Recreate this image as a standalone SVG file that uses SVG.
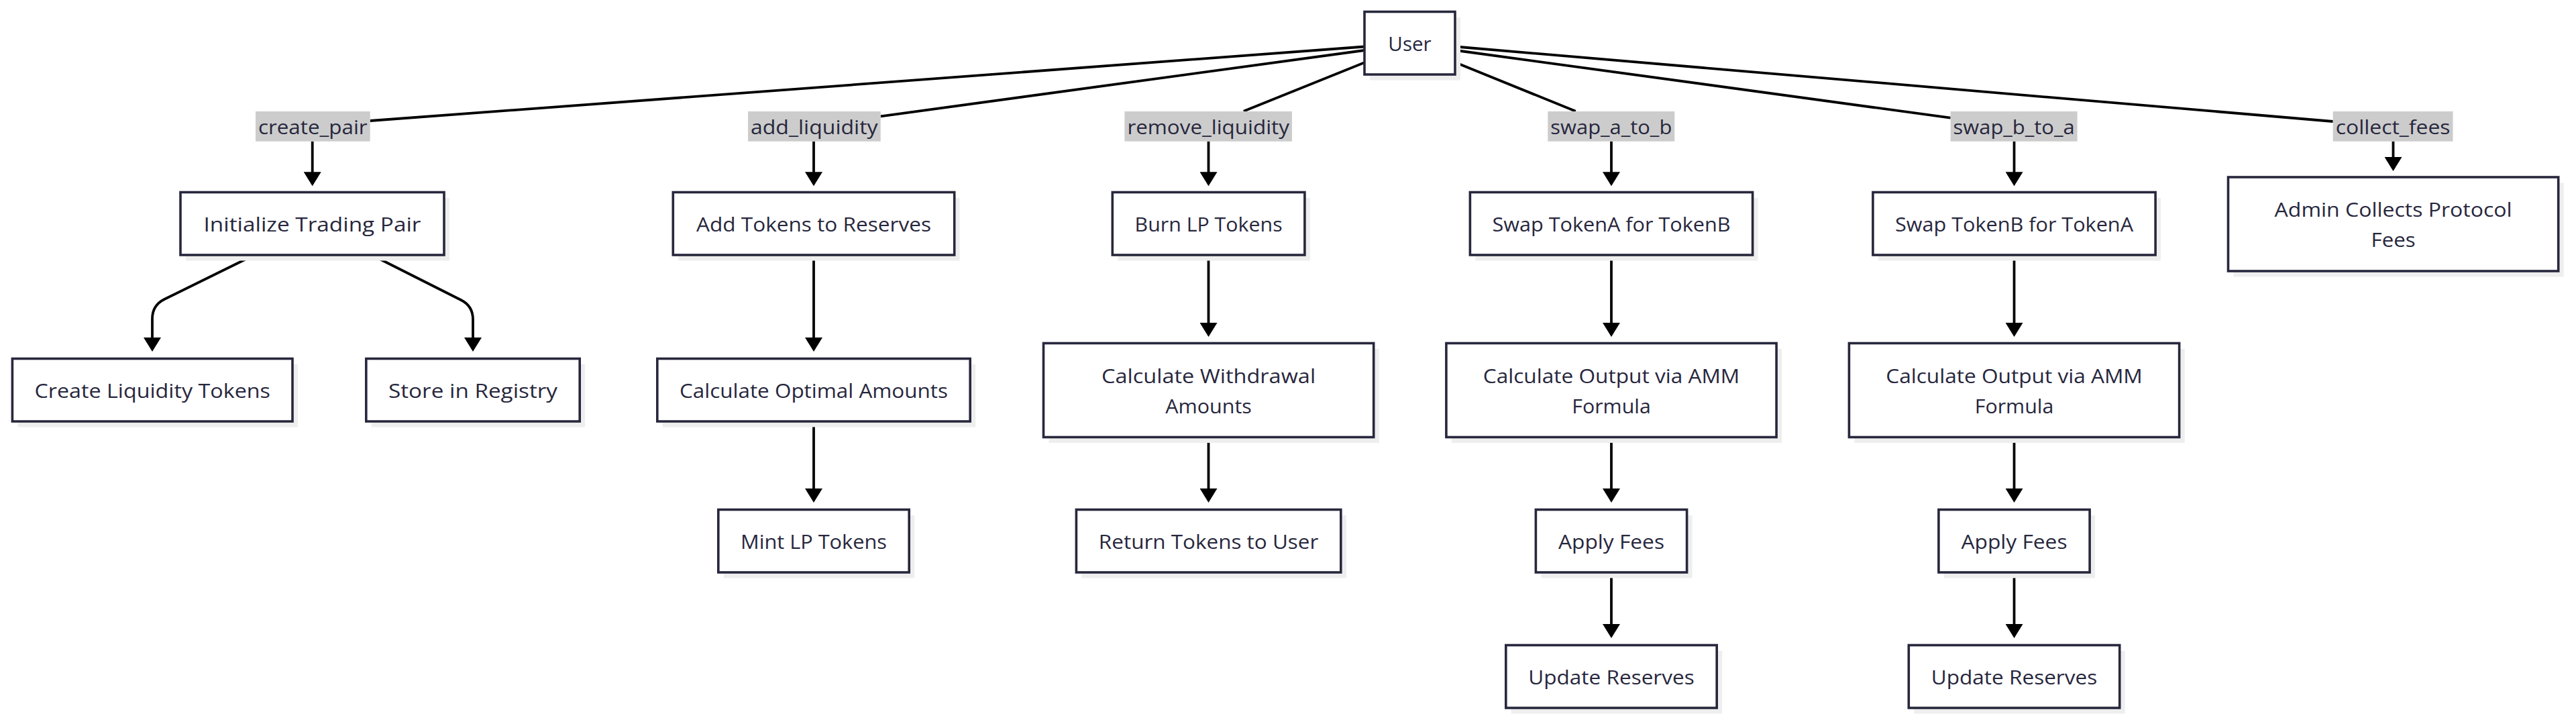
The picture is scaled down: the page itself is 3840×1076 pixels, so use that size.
<svg xmlns="http://www.w3.org/2000/svg" width="3840" height="1076" viewBox="0 0 3840 1076">
<style>
.bg{fill:#ffffff}
.node rect.box{fill:#ffffff;stroke:#27273d;stroke-width:3.6}
.node rect.sh{fill:#eeeeee;stroke:none}
.node text,.lbl text{font-family:"Open Sans","Noto Sans","Liberation Sans",sans-serif;font-size:30px;fill:#27273d;text-anchor:middle;dominant-baseline:central}
.lbl rect{fill:#cccccc;stroke:none}
.edge{fill:none;stroke:#000000;stroke-width:3.8}
.arr{fill:none;stroke:#000000;stroke-width:3.8;marker-end:url(#ah)}
</style>
<defs>
<marker id="ah" viewBox="0 0 21 26" refX="17" refY="13" markerWidth="21" markerHeight="26" markerUnits="userSpaceOnUse" orient="auto">
<path d="M0,0 L21,13 L0,26 z" fill="#000000"/>
</marker>
</defs>
<rect class="bg" x="0" y="0" width="3840" height="1076"/>

<g id="connectors">
<line class="edge" x1="2034" y1="69.5" x2="551.7" y2="180"/>
<line class="edge" x1="2034" y1="75" x2="1312.7" y2="173.3"/>
<line class="edge" x1="2034" y1="93.3" x2="1853.8" y2="165.7"/>
<line class="edge" x1="2170" y1="93.3" x2="2348.8" y2="165.7"/>
<line class="edge" x1="2170" y1="75" x2="2907.6" y2="175.7"/>
<line class="edge" x1="2170" y1="69.5" x2="3477.7" y2="181"/>
<path class="arr" d="M465.7,210.7 L465.7,273.3"/>
<path class="arr" d="M1213,210.7 L1213,273.3"/>
<path class="arr" d="M1801.5,210.7 L1801.5,273.3"/>
<path class="arr" d="M2402,210.7 L2402,273.3"/>
<path class="arr" d="M3002.5,210.7 L3002.5,273.3"/>
<path class="arr" d="M3567.5,210.7 L3567.5,251"/>
<path class="arr" d="M373,383 L245,446 Q227,455 227,475 L227,520"/>
<path class="arr" d="M560,383 L687,447 Q705,456 705,476 L705,520"/>
<path class="arr" d="M1213,382 L1213,520"/>
<path class="arr" d="M1213,630 L1213,745"/>
<path class="arr" d="M1801.5,382 L1801.5,498"/>
<path class="arr" d="M1801.5,652 L1801.5,745"/>
<path class="arr" d="M2402,382 L2402,498"/>
<path class="arr" d="M2402,652 L2402,745"/>
<path class="arr" d="M2402,855 L2402,947"/>
<path class="arr" d="M3002.5,382 L3002.5,498"/>
<path class="arr" d="M3002.5,652 L3002.5,745"/>
<path class="arr" d="M3002.5,855 L3002.5,947"/>
</g>

<g id="edge-labels">
<g class="lbl" id="lbl-create_pair"><rect x="381" y="166" width="170.7" height="44.7"/><text x="466.3" y="188.3" textLength="162.7" lengthAdjust="spacingAndGlyphs">create_pair</text></g>
<g class="lbl" id="lbl-add_liquidity"><rect x="1115" y="166" width="197.7" height="44.7"/><text x="1213.8" y="188.3" textLength="189.7" lengthAdjust="spacingAndGlyphs">add_liquidity</text></g>
<g class="lbl" id="lbl-remove_liquidity"><rect x="1676.4" y="166" width="249.6" height="44.7"/><text x="1801.2" y="188.3" textLength="241.6" lengthAdjust="spacingAndGlyphs">remove_liquidity</text></g>
<g class="lbl" id="lbl-swap_a_to_b"><rect x="2307.3" y="166" width="189" height="44.7"/><text x="2401.8" y="188.3" textLength="181" lengthAdjust="spacingAndGlyphs">swap_a_to_b</text></g>
<g class="lbl" id="lbl-swap_b_to_a"><rect x="2907.6" y="166" width="189" height="44.7"/><text x="3002.1" y="188.3" textLength="181" lengthAdjust="spacingAndGlyphs">swap_b_to_a</text></g>
<g class="lbl" id="lbl-collect_fees"><rect x="3477.7" y="166" width="178.8" height="44.7"/><text x="3567.1" y="188.3" textLength="170.8" lengthAdjust="spacingAndGlyphs">collect_fees</text></g>
</g>

<g class="node" id="user"><rect class="sh" x="2042" y="26" width="135" height="93.5"/><rect class="box" x="2034" y="17.5" width="135" height="93.5"/><text x="2101.5" y="64.3" textLength="64.3" lengthAdjust="spacingAndGlyphs">User</text></g>

<g class="node" id="init-pair"><rect class="sh" x="277" y="295" width="393" height="93.5"/><rect class="box" x="269" y="286.5" width="393" height="93.5"/><text x="465.5" y="333.3" textLength="324" lengthAdjust="spacingAndGlyphs">Initialize Trading Pair</text></g>
<g class="node" id="add-tokens"><rect class="sh" x="1011.3" y="295" width="419.4" height="93.5"/><rect class="box" x="1003.3" y="286.5" width="419.4" height="93.5"/><text x="1213" y="333.3" textLength="350" lengthAdjust="spacingAndGlyphs">Add Tokens to Reserves</text></g>
<g class="node" id="burn-lp"><rect class="sh" x="1666.3" y="295" width="286.6" height="93.5"/><rect class="box" x="1658.3" y="286.5" width="286.6" height="93.5"/><text x="1801.6" y="333.3" textLength="220" lengthAdjust="spacingAndGlyphs">Burn LP Tokens</text></g>
<g class="node" id="swap-a"><rect class="sh" x="2199.4" y="295" width="421.2" height="93.5"/><rect class="box" x="2191.4" y="286.5" width="421.2" height="93.5"/><text x="2402" y="333.3" textLength="355" lengthAdjust="spacingAndGlyphs">Swap TokenA for TokenB</text></g>
<g class="node" id="swap-b"><rect class="sh" x="2799.9" y="295" width="421.2" height="93.5"/><rect class="box" x="2791.9" y="286.5" width="421.2" height="93.5"/><text x="3002.5" y="333.3" textLength="355" lengthAdjust="spacingAndGlyphs">Swap TokenB for TokenA</text></g>
<g class="node" id="admin-fees"><rect class="sh" x="3329.5" y="272.5" width="492.2" height="140"/><rect class="box" x="3321.5" y="264" width="492.2" height="140"/><text x="3567.6" y="311.5" textLength="354" lengthAdjust="spacingAndGlyphs">Admin Collects Protocol</text><text x="3567.6" y="356.5" textLength="66" lengthAdjust="spacingAndGlyphs">Fees</text></g>

<g class="node" id="create-lt"><rect class="sh" x="26.4" y="543" width="417.6" height="93.5"/><rect class="box" x="18.4" y="534.5" width="417.6" height="93.5"/><text x="227.2" y="581.3" textLength="351.5" lengthAdjust="spacingAndGlyphs">Create Liquidity Tokens</text></g>
<g class="node" id="store-reg"><rect class="sh" x="553.8" y="543" width="318.4" height="93.5"/><rect class="box" x="545.8" y="534.5" width="318.4" height="93.5"/><text x="705" y="581.3" textLength="252" lengthAdjust="spacingAndGlyphs">Store in Registry</text></g>
<g class="node" id="calc-opt"><rect class="sh" x="987.8" y="543" width="466.4" height="93.5"/><rect class="box" x="979.8" y="534.5" width="466.4" height="93.5"/><text x="1213" y="581.3" textLength="400" lengthAdjust="spacingAndGlyphs">Calculate Optimal Amounts</text></g>
<g class="node" id="calc-wd"><rect class="sh" x="1563.5" y="520" width="492.2" height="140"/><rect class="box" x="1555.5" y="511.5" width="492.2" height="140"/><text x="1801.6" y="559" textLength="319" lengthAdjust="spacingAndGlyphs">Calculate Withdrawal</text><text x="1801.6" y="604" textLength="128.5" lengthAdjust="spacingAndGlyphs">Amounts</text></g>
<g class="node" id="calc-out-a"><rect class="sh" x="2163.9" y="520" width="492.2" height="140"/><rect class="box" x="2155.9" y="511.5" width="492.2" height="140"/><text x="2402" y="559" textLength="382.5" lengthAdjust="spacingAndGlyphs">Calculate Output via AMM</text><text x="2402" y="604" textLength="117.5" lengthAdjust="spacingAndGlyphs">Formula</text></g>
<g class="node" id="calc-out-b"><rect class="sh" x="2764.4" y="520" width="492.2" height="140"/><rect class="box" x="2756.4" y="511.5" width="492.2" height="140"/><text x="3002.5" y="559" textLength="382.5" lengthAdjust="spacingAndGlyphs">Calculate Output via AMM</text><text x="3002.5" y="604" textLength="117.5" lengthAdjust="spacingAndGlyphs">Formula</text></g>

<g class="node" id="mint-lp"><rect class="sh" x="1078.8" y="768" width="284.4" height="93.5"/><rect class="box" x="1070.8" y="759.5" width="284.4" height="93.5"/><text x="1213" y="806.3" textLength="218" lengthAdjust="spacingAndGlyphs">Mint LP Tokens</text></g>
<g class="node" id="return-tokens"><rect class="sh" x="1612.4" y="768" width="394.4" height="93.5"/><rect class="box" x="1604.4" y="759.5" width="394.4" height="93.5"/><text x="1801.6" y="806.3" textLength="327.5" lengthAdjust="spacingAndGlyphs">Return Tokens to User</text></g>
<g class="node" id="fees-a"><rect class="sh" x="2297.4" y="768" width="225.2" height="93.5"/><rect class="box" x="2289.4" y="759.5" width="225.2" height="93.5"/><text x="2402" y="806.3" textLength="158" lengthAdjust="spacingAndGlyphs">Apply Fees</text></g>
<g class="node" id="fees-b"><rect class="sh" x="2897.9" y="768" width="225.2" height="93.5"/><rect class="box" x="2889.9" y="759.5" width="225.2" height="93.5"/><text x="3002.5" y="806.3" textLength="158" lengthAdjust="spacingAndGlyphs">Apply Fees</text></g>

<g class="node" id="reserves-a"><rect class="sh" x="2252.8" y="970" width="314.4" height="93.5"/><rect class="box" x="2244.8" y="961.5" width="314.4" height="93.5"/><text x="2402" y="1008.3" textLength="247.5" lengthAdjust="spacingAndGlyphs">Update Reserves</text></g>
<g class="node" id="reserves-b"><rect class="sh" x="2853.3" y="970" width="314.4" height="93.5"/><rect class="box" x="2845.3" y="961.5" width="314.4" height="93.5"/><text x="3002.5" y="1008.3" textLength="247.5" lengthAdjust="spacingAndGlyphs">Update Reserves</text></g>
</svg>
